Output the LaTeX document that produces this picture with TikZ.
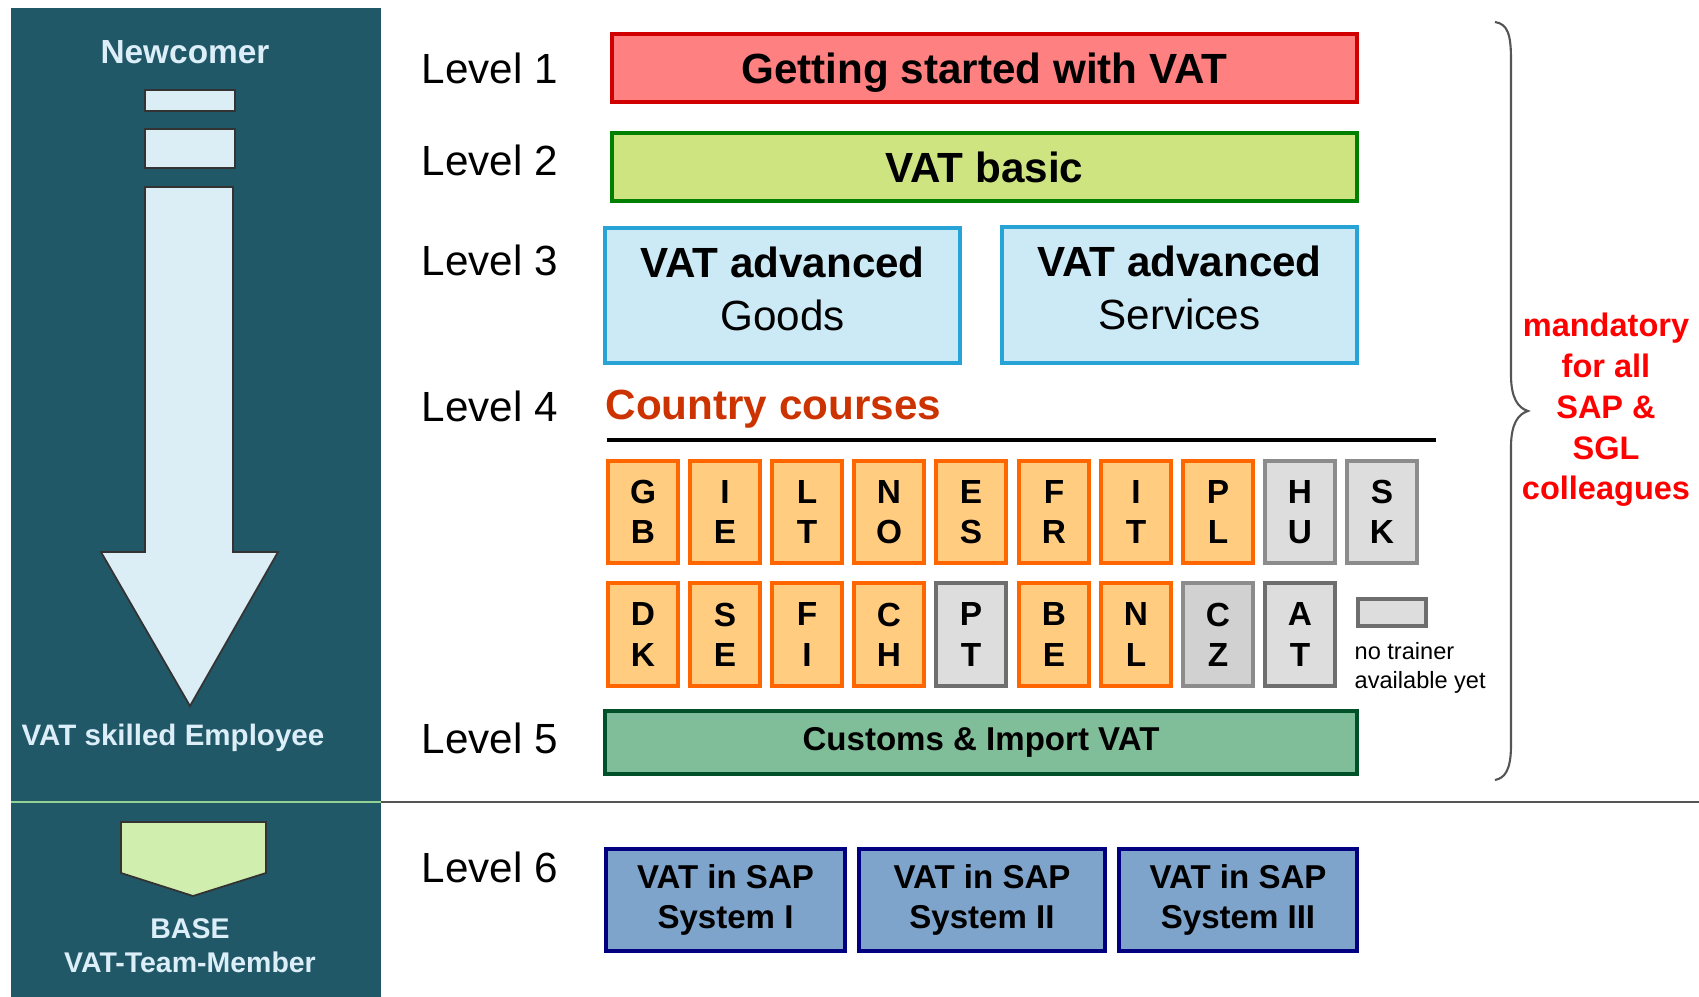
\documentclass[tikz,border=0pt]{standalone}
\usepackage{fontspec}
\setmainfont{Liberation Sans}
\usepackage{xcolor}
\usepackage{tikz}

\definecolor{panelteal}{HTML}{215868}
\definecolor{paneltext}{HTML}{DCEEF8}
\definecolor{arrowfill}{HTML}{DBEEF6}
\definecolor{basefill}{HTML}{D0EFAE}
\definecolor{startfill}{HTML}{FF8080}
\definecolor{startline}{HTML}{D00000}
\definecolor{basicfill}{HTML}{CEE480}
\definecolor{basicline}{HTML}{008000}
\definecolor{advfill}{HTML}{CCE9F6}
\definecolor{advline}{HTML}{27A3D6}
\definecolor{ctryfill}{HTML}{FFCC80}
\definecolor{ctryline}{HTML}{FF6600}
\definecolor{nofill}{HTML}{DDDDDD}
\definecolor{noline}{HTML}{8C8C8C}
\definecolor{nolinedark}{HTML}{6E6E6E}
\definecolor{customsfill}{HTML}{80BE9A}
\definecolor{customsline}{HTML}{00502A}
\definecolor{sapfill}{HTML}{7FA4CC}
\definecolor{sapline}{HTML}{000080}
\definecolor{titleorange}{HTML}{CC3300}
\definecolor{bracegray}{HTML}{555555}

\tikzset{
  lvl/.style={anchor=west, inner sep=0pt, font=\fontsize{12}{14}\selectfont},
  bigbox/.style={draw, line width=0.04cm, inner sep=0pt, align=center, font=\fontsize{12}{15}\selectfont},
  ctrybox/.style={draw=ctryline, fill=ctryfill, line width=0.04cm, inner sep=0pt,
    minimum width=0.70cm, minimum height=1.02cm, align=center,
    font=\fontsize{9.5}{11.4}\selectfont\bfseries},
  nobox/.style={ctrybox, draw=noline, fill=nofill},
  smallbox/.style={draw, line width=0.04cm, inner sep=0pt, align=center,
    font=\fontsize{9.4}{11.4}\selectfont\bfseries},
  paneltxt/.style={inner sep=0pt, align=center, text=paneltext}
}

\begin{document}
\begin{tikzpicture}[x=0.01cm, y=-0.01cm]
    \useasboundingbox (0,0) rectangle (1699,997);

    % Left panel
    \fill[panelteal] (11,8) rectangle (381,997);
    \node[paneltxt, font=\fontsize{9.5}{11}\selectfont\bfseries] (newcomer) at (185,52) {Newcomer};

    \draw[black!80, line width=0.5pt, fill=arrowfill] (145,90) rectangle (235,111);
    \draw[black!80, line width=0.5pt, fill=arrowfill] (145,129) rectangle (235,168);
    \draw[black!80, line width=0.5pt, fill=arrowfill] (145,187) -- (233,187) -- (233,552)
        -- (278,552) -- (190,706) -- (101,552) -- (145,552) -- cycle;

    \node[paneltxt, font=\fontsize{8.4}{10}\selectfont\bfseries] (skilled) at (173,738) {VAT skilled Employee};

    % Separator
    \draw[color=green!40!gray!60, line width=0.6pt] (11,802) -- (381,802);
    \draw[bracegray, line width=0.6pt] (381,802) -- (1699,802);

    % Base member
    \draw[black!80, line width=0.5pt, fill=basefill] (121,822) -- (266,822) -- (266,873)
        -- (193,896) -- (121,873) -- cycle;
    \node[paneltxt, font=\fontsize{8.1}{9.7}\selectfont\bfseries] (base) at (190,946) {BASE\\VAT-Team-Member};

    % Level labels
    \node[lvl] (lvlone) at (421,68) {Level 1};
    \node[lvl] (lvltwo) at (421,160) {Level 2};
    \node[lvl] (lvlthree) at (421,260) {Level 3};
    \node[lvl] (lvlfour) at (421,406) {Level 4};
    \node[lvl] (lvlfive) at (421,738) {Level 5};
    \node[lvl] (lvlsix) at (421,867) {Level 6};

    % Level 1 and 2
    \node[bigbox, draw=startline, fill=startfill, minimum width=7.45cm, minimum height=0.68cm,
        text height=8.6pt, text depth=0pt,
        font=\fontsize{12}{15}\selectfont\bfseries] (start) at (984.5,68) {Getting started with VAT};
    \node[bigbox, draw=basicline, fill=basicfill, minimum width=7.45cm, minimum height=0.68cm,
        text height=8.6pt, text depth=0pt,
        font=\fontsize{12}{15}\selectfont\bfseries] (basic) at (984.5,167) {VAT basic};

    % Level 3
    \node[bigbox, draw=advline, fill=advfill, minimum width=3.55cm, minimum height=1.35cm]
        (goods) at (782.5,295.5) {\textbf{VAT advanced}\\Goods\rule[-4pt]{0pt}{4pt}};
    \node[bigbox, draw=advline, fill=advfill, minimum width=3.55cm, minimum height=1.35cm]
        (services) at (1179.5,295) {\textbf{VAT advanced}\\Services\rule[-4pt]{0pt}{4pt}};

    % Level 4
    \node[anchor=west, inner sep=0pt, text=titleorange, font=\fontsize{12}{14}\selectfont\bfseries]
        (country) at (605,409) {Country courses};
    \draw[black, line width=1.2pt] (607,440) -- (1436,440);

    % Country boxes, first row
    \node[ctrybox] (gb) at (643,512) {G\\B};
    \node[ctrybox] (ie) at (725,512) {I\\E};
    \node[ctrybox] (lt) at (807,512) {L\\T};
    \node[ctrybox] (no) at (889,512) {N\\O};
    \node[ctrybox] (es) at (971,512) {E\\S};
    \node[ctrybox] (fr) at (1054,512) {F\\R};
    \node[ctrybox] (it) at (1136,512) {I\\T};
    \node[ctrybox] (pl) at (1218,512) {P\\L};
    \node[nobox] (hu) at (1300,512) {H\\U};
    \node[nobox] (sk) at (1382,512) {S\\K};

    % Country boxes, second row
    \node[ctrybox] (dk) at (643,634.5) {D\\K};
    \node[ctrybox] (se) at (725,634.5) {S\\E};
    \node[ctrybox] (fi) at (807,634.5) {F\\I};
    \node[ctrybox] (ch) at (889,634.5) {C\\H};
    \node[nobox, draw=nolinedark] (pt) at (971,634.5) {P\\T};
    \node[ctrybox] (be) at (1054,634.5) {B\\E};
    \node[ctrybox] (nl) at (1136,634.5) {N\\L};
    \node[nobox, fill=black!18] (cz) at (1218,634.5) {C\\Z};
    \node[nobox, draw=nolinedark] (at) at (1300,634.5) {A\\T};

    % Legend
    \node[nobox, draw=nolinedark, minimum width=0.68cm, minimum height=0.27cm] (legend) at (1392,612.5) {};
    \node[anchor=north west, inner sep=0pt, align=left, font=\fontsize{6.7}{8.3}\selectfont]
        (legendtext) at (1354,642) {no trainer\\available yet};

    % Level 5
    \node[smallbox, draw=customsline, fill=customsfill, minimum width=7.52cm, minimum height=0.63cm]
        (customs) at (981,742.5) {Customs \& Import VAT};

    % Level 6
    \node[smallbox, draw=sapline, fill=sapfill, minimum width=2.39cm, minimum height=1.02cm]
        (sapone) at (725.5,900) {VAT in SAP\\System I};
    \node[smallbox, draw=sapline, fill=sapfill, minimum width=2.46cm, minimum height=1.02cm]
        (saptwo) at (982,900) {VAT in SAP\\System II};
    \node[smallbox, draw=sapline, fill=sapfill, minimum width=2.38cm, minimum height=1.02cm]
        (sapthree) at (1238,900) {VAT in SAP\\System III};

    % Brace
    \draw[bracegray, line width=0.6pt] (1495,22) .. controls (1508,24) and (1511,35) .. (1511,60)
        -- (1511,375) .. controls (1511,398) and (1518,408) .. (1528,411)
        .. controls (1518,414) and (1511,424) .. (1511,447)
        -- (1511,745) .. controls (1511,770) and (1505,778) .. (1495,780);
    \node[inner sep=0pt, align=center, text=red, font=\fontsize{9.25}{11.6}\selectfont\bfseries]
        (mandatory) at (1606,410) {mandatory\\for all\\SAP \&\\SGL\\colleagues};

\end{tikzpicture}
\end{document}
